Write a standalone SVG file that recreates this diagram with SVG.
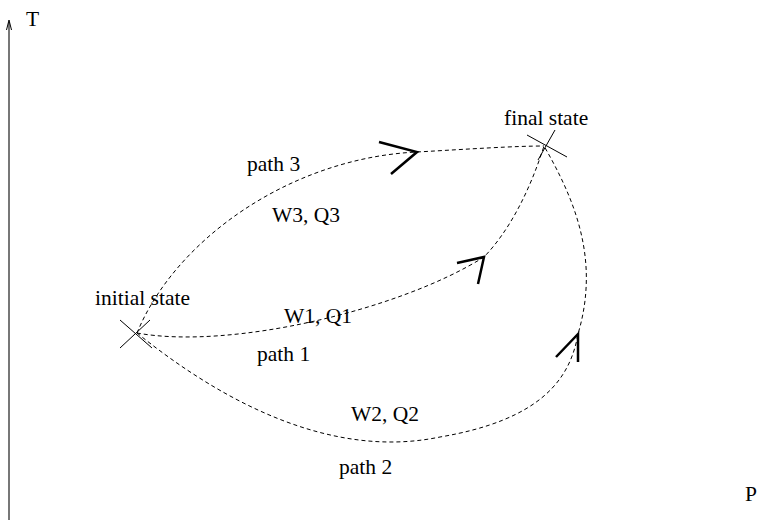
<svg xmlns="http://www.w3.org/2000/svg" width="758" height="520" viewBox="0 0 758 520">
<style>
text{font-family:"Liberation Serif","Times New Roman",serif;font-size:21.5px;fill:#000}
.d{fill:none;stroke:#000;stroke-width:1;stroke-dasharray:4,3}
.a{fill:none;stroke:#000;stroke-width:2.5}
.x{stroke:#000;stroke-width:1}
</style>
<rect width="758" height="520" fill="#fff"/>
<g id="axes">
<line x1="9" y1="520" x2="9" y2="22" stroke="#777" stroke-width="2"/>
<path d="M6.5,30 L9,20 L11.5,30" fill="none" stroke="#000" stroke-width="1"/>
<text x="26" y="26">T</text>
<text x="745" y="501">P</text>
</g>
<g id="initial">
<line class="x" x1="120" y1="320" x2="152" y2="348"/>
<line class="x" x1="120" y1="348" x2="150" y2="320"/>
<text x="95" y="305">initial state</text>
</g>
<g id="final">
<line class="x" x1="527" y1="135" x2="567" y2="157"/>
<line class="x" x1="538" y1="160" x2="555" y2="130"/>
<text x="504" y="125">final state</text>
</g>
<g id="connectors">
<path class="d" d="M137,333 C175,240 290,158 417,152 C470,149 515,146 544,146"/>
<path class="a" d="M379,142 L417,152 L391,174"/>
<path class="d" d="M137,333 C230,350 400,310 484,257 C510,230 530,190 544,146"/>
<path class="a" d="M457,263 L484,257 L478,284"/>
<path class="d" d="M137,333 C220,400 330,460 440,437 C540,420 570,380 578,334 C600,260 575,200 544,146"/>
<path class="a" d="M556,357 L578,334 L578,362"/>
</g>
<g id="labels">
<text x="247" y="171">path 3</text>
<text x="272" y="222">W3, Q3</text>
<text x="284" y="323">W1, Q1</text>
<text x="257" y="361">path 1</text>
<text x="351" y="421">W2, Q2</text>
<text x="339" y="474">path 2</text>
</g>
</svg>
